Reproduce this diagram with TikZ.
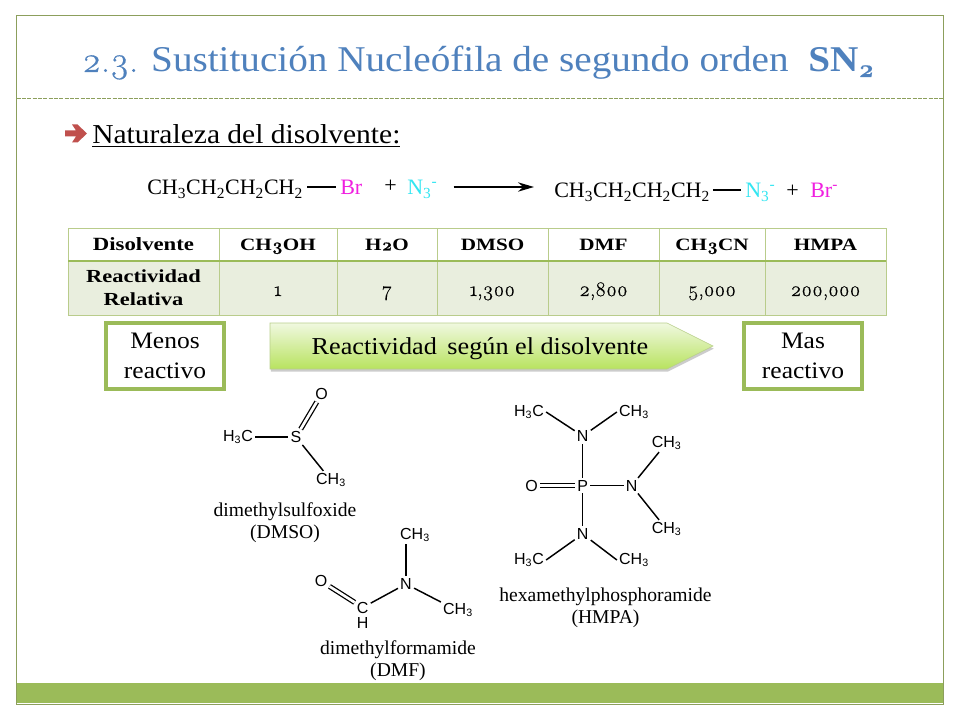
\documentclass[tikz,border=0pt]{standalone}
\usepackage{fontspec}
\usepackage{tikz}
\usetikzlibrary{calc,arrows.meta,shadows}
\setmainfont{Liberation Serif}
\newfontfamily\chemfont{Liberation Sans}
\newfontfamily\slidefont[FakeStretch=1.08]{Liberation Serif}
\newfontfamily\tablefont[FakeStretch=1.22]{Liberation Serif}
\newfontfamily\oldnum[Numbers=OldStyle,FakeBold=0.5]{Latin Modern Roman}
\newcommand{\chemsub}[1]{\textsubscript{#1}}
\definecolor{titleblue}{HTML}{4F81BD}
\definecolor{framegreen}{HTML}{8C9F5C}
\definecolor{bargreen}{HTML}{9BBB59}
\definecolor{cellgreen}{HTML}{E9EEDE}
\definecolor{gridgreen}{HTML}{B9CC8B}
\definecolor{arrowred}{HTML}{C0504D}
\definecolor{azide}{HTML}{33E6F2}
\definecolor{bromo}{HTML}{F01FE0}
\definecolor{scaletop}{HTML}{F0F8E0}
\definecolor{scalebottom}{HTML}{B8E35F}
\tikzset{
	slidetext/.style = {inner sep = 0, font = \slidefont\fontsize{20.5}{24}\selectfont},
	reaction/.style = {inner sep = 0, anchor = base west, font = \fontsize{16.5}{19}\selectfont},
	bond/.style = {line width = 1.1pt},
	dbond/.style = {double, double distance = 2pt, line width = 0.95pt},
	atom/.style = {inner sep = 1.5pt, font = \chemfont\fontsize{12}{14}\selectfont},
	chemname/.style = {inner sep = 0, align = center, font = \fontsize{14.7}{16.5}\selectfont},
	headcell/.style = {draw = gridgreen, line width = 0.6pt, outer sep = 0, minimum height = 24.75pt, inner sep = 0, text height = 10pt, text depth = 1pt, font = \tablefont\bfseries\fontsize{13}{15}\selectfont},
	valcell/.style = {draw = gridgreen, line width = 0.6pt, outer sep = 0, fill = cellgreen, minimum height = 40.5pt, inner sep = 0, align = center},
	reactbox/.style = {draw = bargreen, line width = 3pt, fill = white, minimum width = 88.5pt, minimum height = 49.5pt, inner sep = 0, align = center, font = \slidefont\fontsize{17.7}{22.5}\selectfont}
}
\begin{document}
\begin{tikzpicture}[x = 0.75pt, y = -0.75pt]
	\useasboundingbox (0,0) rectangle (960,720);
	\fill[white] (0,0) rectangle (960,720);
	% slide frame
	\fill[bargreen] (16,683) rectangle (943,703);
	\draw[framegreen, line width = 0.8pt] (16.5,15.5) rectangle (943.5,704.5);
	\draw[framegreen, line width = 0.6pt, dash pattern = on 3pt off 1pt] (16.5,98) -- (943.5,98);
	\node[anchor = base west, inner sep = 0, text = titleblue, font = \slidefont\fontsize{27.2}{30}\selectfont] (title) at (82,72) {{\oldnum\fontsize{27}{30}\selectfont 2.3.} Sustitución Nucleófila de segundo orden};
	\node[anchor = base west, inner sep = 0, text = titleblue, font = \slidefont\bfseries\fontsize{27.2}{30}\selectfont] (titlesn) at (808,72) {SN\textsubscript{\oldnum 2}};
	% bullet
	\fill[arrowred] (65,130.5) -- (76,130.5) -- (72,124.5) -- (77.5,124.5) -- (87,133.5) -- (77.5,142.5) -- (72,142.5) -- (76,136.5) -- (65,136.5) -- cycle;
	\node[slidetext, anchor = base west] (bullet) at (92,144) {\underline{Naturaleza del disolvente:}};
	% reaction
	\node[reaction] (chainA) at (147,195) {CH\textsubscript{3}CH\textsubscript{2}CH\textsubscript{2}CH\textsubscript{2}};
	\node[reaction, text = bromo] (brA) at (340,195) {Br};
	\node[reaction] (plusA) at (384,193) {+};
	\node[reaction, text = azide] (azA) at (407,195) {N\textsubscript{3}\textsuperscript{-}};
	\node[reaction] (chainB) at (554,198) {CH\textsubscript{3}CH\textsubscript{2}CH\textsubscript{2}CH\textsubscript{2}};
	\node[reaction, text = azide] (azB) at (745,198) {N\textsubscript{3}\textsuperscript{-}};
	\node[reaction] (plusB) at (786,198) {+};
	\node[reaction, text = bromo] (brB) at (810,198) {Br\textsuperscript{-}};
	\draw[line width = 1.2pt, shorten < = 3pt, shorten > = 3pt] ([yshift = 6pt]chainA.base east) -- ([yshift = 6pt]brA.base west);
	\draw[line width = 1.2pt, shorten < = 2pt, shorten > = 3pt] ([yshift = 6pt]chainB.base east) -- ([yshift = 6pt]azB.base west);
	\draw[-{Stealth[length = 12pt, width = 7pt]}, line width = 1.1pt, shorten < = 12pt, shorten > = 15pt] ([yshift = 6pt]azA.base east) -- ([yshift = 6pt]chainB.base west |- azA.base);
	% table
	\node[headcell, minimum width = 113.25pt, anchor = north west, font = \tablefont\bfseries\fontsize{14}{15}\selectfont] (head0) at (68,228) {Disolvente};
	\node[valcell, minimum width = 113.25pt, anchor = north west, font = \tablefont\bfseries\fontsize{13.8}{17}\selectfont] (val0) at (68,261) {Reactividad\\Relativa};
	\foreach \colx/\colw/\headtxt/\valtxt [count = \i] in {219/118/{CH{\oldnum\bfseries 3}OH}/1, 337/100/{H{\oldnum\bfseries 2}O}/7, 437/111/DMSO/{1,300}, 548/111/DMF/{2,800}, 659/106/{CH{\oldnum\bfseries 3}CN}/{5,000}, 765/121/HMPA/{200,000}}{
		\node[headcell, minimum width = \colw*0.75pt, anchor = north west] (head\i) at (\colx,228) {\headtxt};
		\node[valcell, minimum width = \colw*0.75pt, anchor = north west, text height = 12pt, text depth = 0pt, font = \oldnum\fontsize{15.5}{15}\selectfont] (val\i) at (\colx,261) {\valtxt};
	}
	\draw[bargreen, line width = 1.6pt] (head0.south west) -- (head6.south east);
	% reactivity scale
	\node[reactbox] (menos) at (165,356) {Menos\\reactivo};
	\node[reactbox] (mas) at (803,356) {Mas\\reactivo};
	\shadedraw[top color = scaletop, bottom color = scalebottom, draw = bargreen!70, line width = 0.4pt, drop shadow = {shadow xshift = 0.6pt, shadow yshift = -2pt, opacity = 0.4}] (270,323) -- (667,323) -- (713,346) -- (667,369) -- (270,369) -- cycle;
	\node[inner sep = 0, font = \slidefont\fontsize{18.2}{21}\selectfont] (scale) at (480,349) {Reactividad\, según el disolvente};
	% DMSO
	\node[atom] (dmsoC) at (238,437) {H\chemsub{3}C};
	\node[atom] (dmsoS) at (296,437) {S};
	\node[atom] (dmsoO) at (321.5,394) {O};
	\node[atom] (dmsoM) at (331,480) {CH\chemsub{3}};
	\draw[bond] (dmsoC) -- (dmsoS);
	\draw[dbond] (dmsoS) -- (dmsoO);
	\draw[bond] (dmsoS) -- (dmsoM.130);
	\node[chemname] (dmsoname) at (285,523) {dimethylsulfoxide\\(DMSO)};
	% DMF
	\node[atom] (dmfO) at (321,581) {O};
	\node[atom] (dmfC) at (362.7,607.5) {C};
	\node[atom] (dmfH) at (362.7,623) {H};
	\node[atom] (dmfN) at (406,584) {N};
	\node[atom] (dmfU) at (415,535) {CH\chemsub{3}};
	\node[atom] (dmfR) at (458,610) {CH\chemsub{3}};
	\draw[dbond] (dmfO) -- (dmfC);
	\draw[bond] (dmfC) -- (dmfN);
	\draw[bond] (dmfN) -- (dmfN |- dmfU.south);
	\draw[bond] (dmfN) -- (dmfR.155);
	\node[chemname] (dmfname) at (398,660.5) {dimethylformamide\\(DMF)};
	% HMPA
	\node[atom] (hmpaP) at (582.7,485.7) {P};
	\node[atom] (hmpaO) at (531.7,485.7) {O};
	\node[atom] (hmpaT) at (582.7,436) {N};
	\node[atom] (hmpaB) at (582.7,534) {N};
	\node[atom] (hmpaR) at (631.7,485.7) {N};
	\node[atom] (hmpaTl) at (529,412) {H\chemsub{3}C};
	\node[atom] (hmpaTr) at (634,412) {CH\chemsub{3}};
	\node[atom] (hmpaBl) at (529,560) {H\chemsub{3}C};
	\node[atom] (hmpaBr) at (634,560) {CH\chemsub{3}};
	\node[atom] (hmpaRu) at (666.7,443) {CH\chemsub{3}};
	\node[atom] (hmpaRd) at (666.7,529) {CH\chemsub{3}};
	\draw[dbond] (hmpaO) -- (hmpaP);
	\draw[bond] (hmpaP) -- (hmpaT);
	\draw[bond] (hmpaP) -- (hmpaB);
	\draw[bond] (hmpaP) -- (hmpaR);
	\draw[bond] (hmpaT) -- (hmpaTl.east);
	\draw[bond] (hmpaT) -- (hmpaTr.west);
	\draw[bond] (hmpaB) -- (hmpaBl.east);
	\draw[bond] (hmpaB) -- (hmpaBr.west);
	\draw[bond] (hmpaR) -- (hmpaRu.230);
	\draw[bond] (hmpaR) -- (hmpaRd.130);
	\node[chemname] (hmpaname) at (605.5,607.5) {hexamethylphosphoramide\\(HMPA)};
\end{tikzpicture}
\end{document}
